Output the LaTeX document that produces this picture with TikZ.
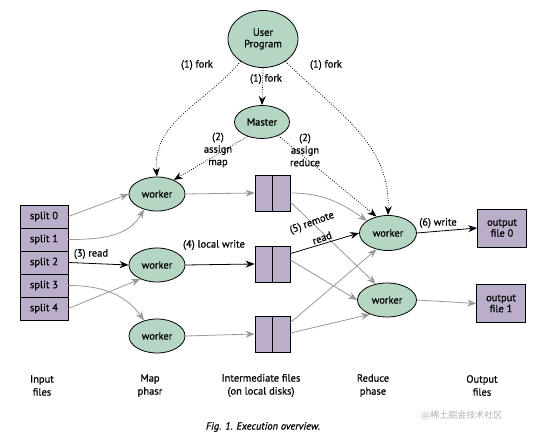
\documentclass[tikz,border=0pt]{standalone}
\usepackage{fontspec}
\setmainfont{PT Sans}[FakeBold=0.6]
\newfontfamily\cjk{Noto Sans CJK SC}
\usetikzlibrary{shapes.geometric,arrows.meta}
\definecolor{wgreen}{HTML}{B6D6C4}
\definecolor{fpurple}{HTML}{BAAECA}
\definecolor{lgray}{HTML}{999999}

\begin{document}
\begin{tikzpicture}[x=1pt,y=-1pt,font=\fontsize{10.5}{11}\selectfont]
\tikzstyle{every path}=[line width=0.8pt];
\tikzstyle{proc}=[draw,ellipse,fill=wgreen,inner sep=0pt,minimum width=56pt,minimum height=34pt];
\tikzstyle{splitbox}=[draw,fill=fpurple,minimum width=48pt,minimum height=23pt,inner sep=0pt];
\tikzstyle{filebox}=[draw,fill=fpurple,minimum width=35pt,minimum height=36pt,inner sep=0pt];
\tikzstyle{outbox}=[draw,fill=fpurple,minimum width=49pt,minimum height=38pt,inner sep=0pt,align=center,font=\fontsize{10.5}{11}\selectfont];
\tikzstyle{dark}=[-{Stealth[length=9pt,width=7pt]},black];
\tikzstyle{light}=[-{Stealth[length=9pt,width=7pt]},lgray];
\tikzstyle{ctrl}=[dark,dash pattern=on 0.8pt off 1.6pt];
\tikzstyle{lbl}=[align=center,inner sep=1pt,font=\fontsize{10.5}{12.5}\selectfont];
\useasboundingbox (0,0) rectangle (541,435);
% processes
\node (UP) at (263,39) [proc,minimum width=70pt,minimum height=57pt,align=center,font=\fontsize{10.5}{11.5}\selectfont] {User\\Program};
\node (M) at (262,122) [proc,minimum width=55pt,minimum height=33pt] {Master};
\node (W1) at (157,194) [proc] {worker};
\node (W2) at (157,265) [proc] {worker};
\node (W3) at (157,336) [proc] {worker};
\node (R1) at (388,233) [proc,minimum width=57pt,minimum height=35pt] {worker};
\node (R2) at (387,300) [proc,minimum width=59pt,minimum height=34pt] {worker};
% input files
\foreach \i in {0,...,4}
  \node (S\i) at (44,216.5+23*\i) [splitbox] {split \i};
% intermediate files
\node (F1) at (272.5,193) [filebox] {};
\node (F2) at (272.5,264) [filebox] {};
\node (F3) at (272.5,334) [filebox] {};
\foreach \f in {F1,F2,F3}
  \draw (\f.north) -- (\f.south);
% output files
\node (O0) at (502,228) [outbox] {output\\file 0};
\node (O1) at (501,303.5) [outbox] {output\\file 1};
% (1) fork and (2) assign
\draw[ctrl] (UP.225) to[out=-130,in=95] (W1.north);
\draw[ctrl] (UP.south) -- (M.north);
\draw[ctrl] (UP.315) to[out=-45,in=88] (R1.north);
\draw[ctrl] (M.225) -- (W1.40);
\draw[ctrl] (M.320) -- (R1.125);
\node (L1) at (197,65) [lbl] {(1) fork};
\node (L2) at (266,79) [lbl] {(1) fork};
\node (L3) at (326,65) [lbl] {(1) fork};
\node (L4) at (218,150) [lbl] {(2)\\assign\\map};
\node (L5) at (305,150) [lbl] {(2)\\assign\\reduce};
% map input
\draw[light] (S0.east) -- (W1.west);
\draw[light] (S1.east) to[out=0,in=240] (W1.230);
\draw[dark] (S2.east) -- (W2.west);
\draw[light] (S3.east) to[out=0,in=125] (W3.130);
\draw[light] (S4.east) -- (W2.220);
\node (L6) at (91,254) [lbl] {(3) read};
% local write
\draw[light] (W1.east) -- (F1.west);
\draw[dark] (W2.east) -- (F2.west);
\draw[light] (W3.east) -- (F3.west);
\node (L7) at (214,245) [lbl] {(4) local write};
% remote read
\draw[light] (F1.east) to[out=0,in=145] (R1.150);
\draw[light] ([yshift=-9pt]F1.east) -- (R2.125);
\draw[dark] ([yshift=-8pt]F2.north east) -- (R1.west);
\draw[light] ([yshift=4pt]F2.east) -- (R2.west);
\draw[light] ([yshift=-7pt]F3.north east) -- (R1.235);
\draw[light] ([yshift=1pt]F3.east) -- (R2.220);
\node (L8a) at (312,223) [lbl,rotate=20,inner sep=0pt] {(5) remote};
\node (L8b) at (322,238) [lbl,rotate=20,inner sep=0pt] {read};
% output
\draw[dark] (R1.east) -- (O0.west);
\draw[light] (R2.east) -- (O1.west);
\node (L9) at (438,223) [lbl] {(6) write};
% phase labels
\node (P1) at (42,385.5) [lbl,font=\fontsize{10.5}{13}\selectfont] {Input\\files};
\node (P2) at (150,385.5) [lbl,font=\fontsize{10.5}{13}\selectfont] {Map\\phasr};
\node (P3) at (261,385.5) [lbl,font=\fontsize{10.5}{13}\selectfont] {Intermediate files\\(on local disks)};
\node (P4) at (373,385.5) [lbl,font=\fontsize{10.5}{13}\selectfont] {Reduce\\phase};
\node (P5) at (482,385.5) [lbl,font=\fontsize{10.5}{13}\selectfont] {Output\\files};
\node (CAP) at (263,427) [lbl] {\itshape Fig. 1. Execution overview.};
\node (WM) at (462,415) [lbl,text=black!30,font=\cjk\fontsize{9}{10}\selectfont] {@稀土掘金技术社区};
\end{tikzpicture}
\end{document}
